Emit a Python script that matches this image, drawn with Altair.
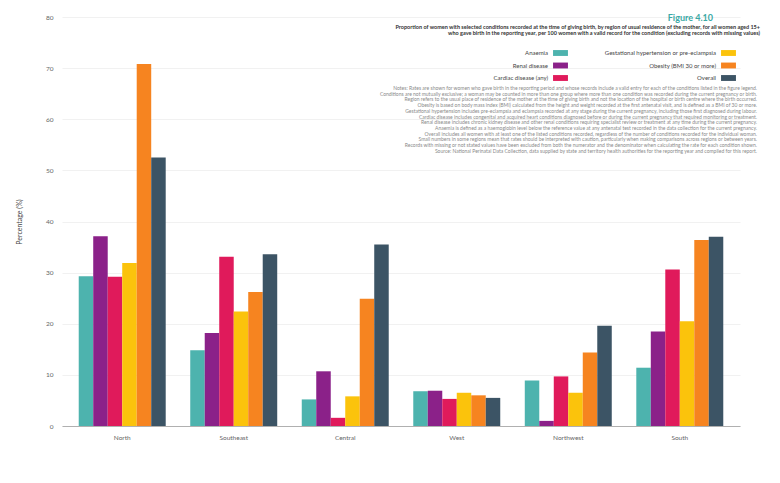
import altair as alt
import pandas as pd

categories = ["North", "Southeast", "Central", "West", "Northwest", "South"]
series = [
    "Anaemia",
    "Renal disease",
    "Cardiac disease (any)",
    "Gestational hypertension or pre-eclampsia",
    "Obesity (BMI 30 or more)",
    "Overall",
]
colors = ["#4db3ae", "#8b2189", "#e01a5b", "#fbc30c", "#f68420", "#3c5465"]

teal_vals = [29.3, 14.8, 5.2, 6.8, 8.9, 11.4]
purple_vals = [37.1, 18.2, 10.7, 6.9, 1.0, 18.5]
crimson_vals = [29.2, 33.1, 1.6, 5.3, 9.7, 30.6]
yellow_vals = [31.9, 22.4, 5.8, 6.5, 6.5, 20.5]
orange_vals = [70.8, 26.2, 24.9, 6.0, 14.4, 36.4]
slate_vals = [52.5, 33.6, 35.5, 5.5, 19.6, 37.0]

y_ticks = [0, 10, 20, 30, 40, 50, 60, 70, 80]

title_text = "Figure 4.10"
subtitle_lines = [
    "Proportion of women with selected conditions recorded at the time of giving birth, by region of usual residence of the mother, for all women aged 15+",
    "who gave birth in the reporting year, per 100 women with a valid record for the condition (excluding records with missing values)",
]
note_lines = [
    "Notes: Rates are shown for women who gave birth in the reporting period and whose records include a valid entry for each of the conditions listed in the figure legend.",
    "Conditions are not mutually exclusive; a woman may be counted in more than one group where more than one condition was recorded during the current pregnancy or birth.",
    "Region refers to the usual place of residence of the mother at the time of giving birth and not the location of the hospital or birth centre where the birth occurred.",
    "Obesity is based on body mass index (BMI) calculated from the height and weight recorded at the first antenatal visit, and is defined as a BMI of 30 or more.",
    "Gestational hypertension includes pre-eclampsia and eclampsia recorded at any stage during the current pregnancy, including those first diagnosed during labour.",
    "Cardiac disease includes congenital and acquired heart conditions diagnosed before or during the current pregnancy that required monitoring or treatment.",
    "Renal disease includes chronic kidney disease and other renal conditions requiring specialist review or treatment at any time during the current pregnancy.",
    "Anaemia is defined as a haemoglobin level below the reference value at any antenatal test recorded in the data collection for the current pregnancy.",
    "Overall includes all women with at least one of the listed conditions recorded, regardless of the number of conditions recorded for the individual woman.",
    "Small numbers in some regions mean that rates should be interpreted with caution, particularly when making comparisons across regions or between years.",
    "Records with missing or not stated values have been excluded from both the numerator and the denominator when calculating the rate for each condition shown.",
    "Source: National Perinatal Data Collection, data supplied by state and territory health authorities for the reporting year and compiled for this report.",
]

value_lists = [teal_vals, purple_vals, crimson_vals, yellow_vals, orange_vals, slate_vals]
rows = []
for s, vals in zip(series, value_lists):
    for c, v in zip(categories, vals):
        rows.append({"category": c, "series": s, "value": v})
df = pd.DataFrame(rows)

FONT = "Lato"

bars = alt.Chart(df).mark_bar().encode(
    x=alt.X(
        "category:N",
        sort=categories,
        scale=alt.Scale(paddingInner=0.22, paddingOuter=0.15),
        axis=alt.Axis(title=None, labelAngle=0, ticks=False, domain=True,
                      domainColor="#b0b0b0", labelFontSize=6.5, labelColor="#666666",
                      labelPadding=8, labelFont=FONT),
    ),
    xOffset=alt.XOffset("series:N", sort=series,
                        scale=alt.Scale(paddingInner=0, paddingOuter=0)),
    y=alt.Y(
        "value:Q",
        scale=alt.Scale(domain=[0, 80], nice=False),
        axis=alt.Axis(values=y_ticks, title="Percentage (%)", grid=True,
                      gridColor="#f1f1f1", domain=False, ticks=False,
                      labelFontSize=6.5, labelColor="#666666", labelPadding=9,
                      titleFontSize=7, titleColor="#444444", titleFontWeight="normal",
                      titlePadding=23, labelFont=FONT, titleFont=FONT),
    ),
    color=alt.Color(
        "series:N",
        sort=series,
        scale=alt.Scale(domain=series, range=colors),
        legend=alt.Legend(
            title=None,
            orient="none",
            legendX=472,
            legendY=29,
            columns=2,
            # swatch drawn to the right of its nominal box so the label sits on its left
            symbolType="M1.72,-0.42H3.85V0.42H1.72Z",
            symbolSize=196,
            symbolStrokeWidth=0,
            symbolOpacity=1,
            labelFontSize=6,
            labelColor="#444444",
            labelFont=FONT,
            labelAlign="right",
            labelOffset=0,
            rowPadding=2.5,
            columnPadding=36,
            labelLimit=200,
        ),
    ),
)

one = pd.DataFrame({"k": [0]})

title_mark = alt.Chart(one).mark_text(
    text=title_text, font=FONT, fontSize=9, fontWeight="bold", color="#3aa9a5",
    align="right", baseline="middle",
).encode(x=alt.value(651), y=alt.value(1))

subtitle_mark = alt.Chart(one).mark_text(
    text=subtitle_lines, font=FONT, fontSize=5.5, fontWeight="bold", color="#333333",
    align="right", baseline="top", lineHeight=6,
).encode(x=alt.value(698), y=alt.value(7.5))

notes_mark = alt.Chart(one).mark_text(
    text=note_lines, font=FONT, fontSize=5, color="#8a8a8a",
    align="right", baseline="top", lineHeight=5.7,
).encode(x=alt.value(695), y=alt.value(69))

chart = alt.layer(bars, title_mark, subtitle_mark, notes_mark).properties(
    width=678,
    height=409,
    autosize=alt.AutoSizeParams(type="none"),
    padding={"left": 62, "top": 17, "right": 40, "bottom": 57},
    background="white",
).configure_view(stroke=None)

chart.save("out.html", embed_options={"renderer": "svg", "actions": False})
